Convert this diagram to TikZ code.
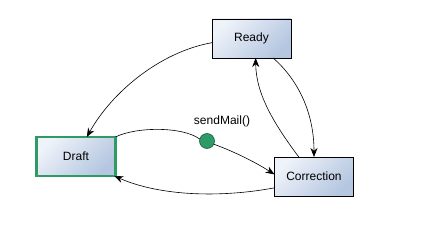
\documentclass[tikz,border=0pt]{standalone}
\usepackage{fontspec}
\setmainfont{Liberation Sans}
\usetikzlibrary{arrows.meta}
\definecolor{boxlight}{HTML}{EEF2F9}
\definecolor{boxdark}{HTML}{B4C6E0}
\definecolor{stgreen}{HTML}{2E9A66}
\definecolor{stgreendk}{HTML}{1E5E40}
\tikzset{
  statebox/.style={rectangle, draw=black, line width=0.8pt, minimum width=79pt, minimum height=39pt,
    left color=boxlight, right color=boxdark, shading angle=45, outer sep=0pt, inner sep=0pt,
    font=\fontsize{12}{14}\selectfont},
  initbox/.style={statebox, draw=stgreen, line width=2.4pt},
  junction/.style={circle, draw=stgreendk, line width=0.6pt, fill=stgreen, minimum size=15pt, inner sep=0pt, outer sep=0pt},
  trans/.style={draw=black, line width=0.6pt, -{Stealth[length=9pt,width=7pt]}},
  plain/.style={draw=black, line width=0.6pt},
  lbl/.style={font=\fontsize{12}{14}\selectfont}
}
\begin{document}
\begin{tikzpicture}[x=1pt,y=-1pt]
\useasboundingbox (0,0) rectangle (428,230);
\node[statebox] (ready) at (251.5,38.5) {Ready};
\node[initbox] (draft) at (76,156.5) {Draft};
\node[statebox] (corr) at (314,176.5) {Correction};
\node[junction] (dot) at (207,141) {};
\node[lbl] (send) at (222,121) {sendMail()};
% Ready -> Draft
\draw[trans] (ready.186) .. controls (160,52) and (112,92) .. (draft.61);
% Draft -> dot
\draw[plain] (draft.north east) .. controls (135,127) and (182,126) .. (dot.165);
% dot -> Correction
\draw[trans] (dot.-25) .. controls (235,152) and (255,162) .. (corr.177);
% Correction -> Draft
\draw[trans] (corr.196) .. controls (220,198) and (160,196) .. (draft.-27);
% Correction -> Ready
\draw[trans] (corr.128) .. controls (275,125) and (256,95) .. (ready.-78);
% Ready -> Correction
\draw[trans] (ready.-42) .. controls (296,78) and (314,110) .. (corr.north);
\end{tikzpicture}
\end{document}
